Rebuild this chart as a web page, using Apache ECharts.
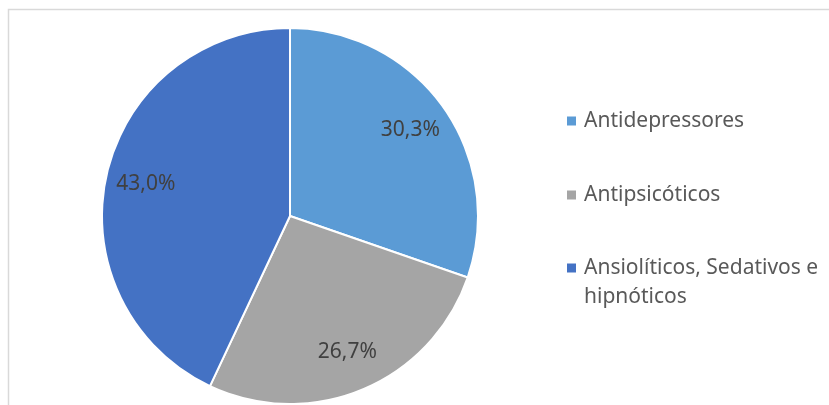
<!DOCTYPE html>
<html>
<head>
<meta charset="utf-8">
<script src="https://cdn.jsdelivr.net/npm/echarts@6/dist/echarts.min.js"></script>
<style>
  html, body { margin: 0; padding: 0; background: #ffffff; }
  #chart { width: 829px; height: 405px; }
</style>
</head>
<body>
<div id="chart"></div>
<script>
// Classes of psychotropic drugs and their share of prescriptions (%)
const categories = ['Antidepressores', 'Antipsicóticos', 'Ansiolíticos, Sedativos e hipnóticos'];
const shares = [30.3, 26.7, 43.0];
const colors = ['#5B9BD5', '#A5A5A5', '#4472C4'];

const FONT = '"Noto Sans", "Open Sans", sans-serif';
const CENTER = [290, 216];
const RADIUS = 188;
const LINE_H = 29;

const pieData = categories.map((name, i) => ({ name, value: shares[i], itemStyle: { color: colors[i] } }));
const fmt = p => p.value.toFixed(1).replace('.', ',') + '%';

const chart = echarts.init(document.getElementById('chart'), null, { renderer: 'canvas' });

// one legend per category so each entry sits on its own row;
// the long name wraps, with its first line level with the swatch
const legendRowCenters = [121, 195, 268];
const legendText = n => n === categories[2] ? ' \nAnsiolíticos, Sedativos e\nhipnóticos' : n;
const legends = categories.map((name, i) => ({
  orient: 'vertical',
  left: 567,
  top: legendRowCenters[i] - (i === 2 ? 1.5 : 0.5) * LINE_H,
  padding: 0,
  itemWidth: 9,
  itemHeight: 9,
  icon: 'rect',
  selectedMode: false,
  itemStyle: { borderWidth: 0 },
  data: [name],
  formatter: legendText,
  textStyle: { color: '#595959', fontSize: 21, fontFamily: FONT, lineHeight: LINE_H, padding: [0, 0, 0, 3] }
}));

chart.setOption({
  animation: false,
  graphic: [{
    type: 'rect',
    shape: { x: 8.5, y: 9.5, width: 900, height: 500 },
    style: { fill: 'none', stroke: '#D9D9D9', lineWidth: 1.5 },
    silent: true
  }],
  legend: legends,
  series: [
    {
      type: 'pie',
      center: CENTER,
      radius: [0, RADIUS],
      startAngle: 90,
      clockwise: true,
      silent: true,
      itemStyle: { borderColor: '#ffffff', borderWidth: 2 },
      label: { show: false },
      labelLine: { show: false },
      data: pieData
    },
    {
      // transparent ring carrying the percentage labels at ~0.77 of the radius
      type: 'pie',
      center: CENTER,
      radius: [RADIUS * 0.54, RADIUS],
      startAngle: 90,
      clockwise: true,
      silent: true,
      legendHoverLink: false,
      itemStyle: { color: 'rgba(0,0,0,0)', borderWidth: 0 },
      label: {
        show: true,
        position: 'inside',
        formatter: fmt,
        color: '#404040',
        fontSize: 21,
        fontFamily: FONT
      },
      labelLine: { show: false },
      data: shares.map((v, i) => ({ name: categories[i] + ' ', value: v }))
    }
  ]
});
</script>
</body>
</html>
